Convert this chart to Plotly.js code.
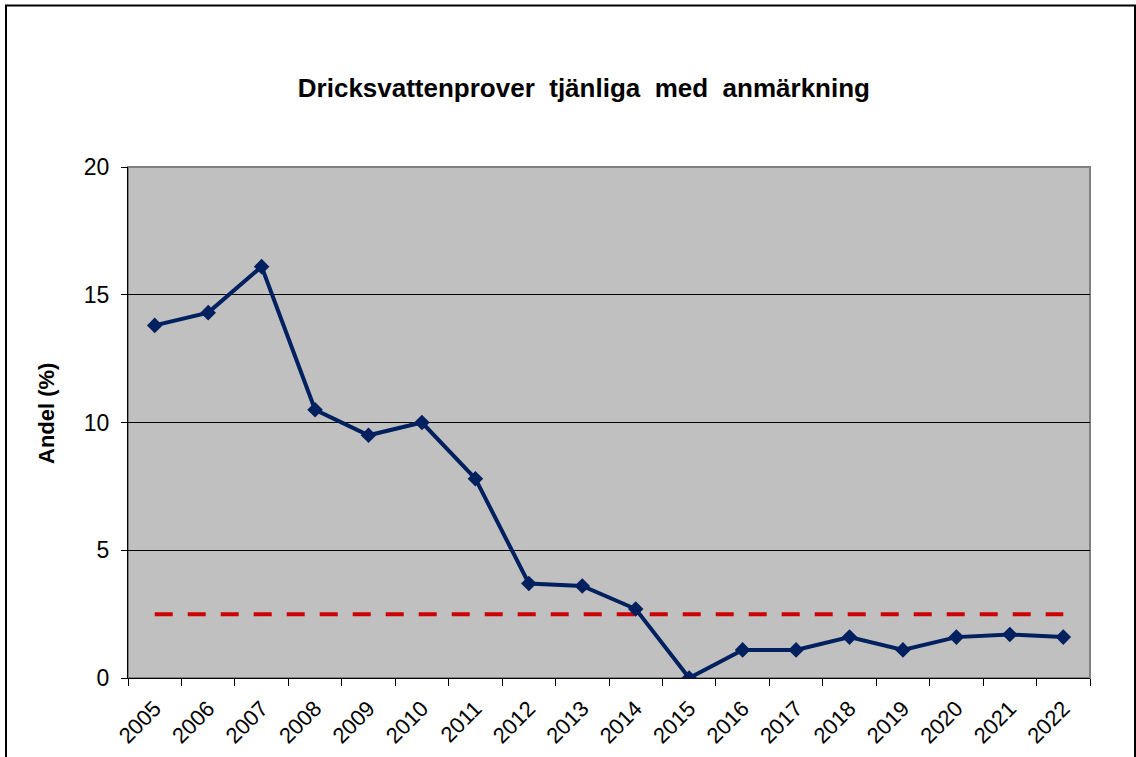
<!DOCTYPE html>
<html>
<head>
<meta charset="utf-8">
<script src="https://cdn.plot.ly/plotly-3.0.1.min.js"></script>
<style>
html,body{margin:0;padding:0;background:#fff;}
#chart{width:1136px;height:757px;}
</style>
</head>
<body>
<div id="chart"></div>
<script>
const years = ["2005","2006","2007","2008","2009","2010","2011","2012","2013","2014","2015","2016","2017","2018","2019","2020","2021","2022"];
const andel = [13.8,14.3,16.1,10.5,9.5,10.0,7.8,3.7,3.6,2.7,0.0,1.1,1.1,1.6,1.1,1.6,1.7,1.6];
const malniva = [2.5,2.5,2.5,2.5,2.5,2.5,2.5,2.5,2.5,2.5,2.5,2.5,2.5,2.5,2.5,2.5,2.5,2.5];
const yTicks = [0,5,10,15,20];

const traces = [
  {
    x: years, y: malniva, type: 'scatter', mode: 'lines',
    line: {color: '#CC0000', width: 4, dash: '18px,15px'},
    hoverinfo: 'skip', showlegend: false
  },
  {
    x: years, y: andel, type: 'scatter', mode: 'lines+markers',
    line: {color: '#00205F', width: 4},
    marker: {symbol: 'diamond', size: 12, color: '#00205F'},
    showlegend: false
  }
];

const font = {family: 'Liberation Sans, Arial, sans-serif', color: '#000'};

const layout = {
  width: 1136, height: 757,
  margin: {l: 128, r: 46, t: 167, b: 79},
  paper_bgcolor: '#ffffff',
  plot_bgcolor: '#C0C0C0',
  font: font,
  title: {
    text: '<b>Dricksvattenprover  tjänliga  med  anmärkning</b>',
    font: {family: font.family, size: 26, color: '#000'},
    xref: 'container', yref: 'container',
    x: 0.514, y: 1 - 88/757, xanchor: 'center', yanchor: 'middle'
  },
  xaxis: {
    type: 'category',
    tickson: 'boundaries',
    ticks: 'outside', ticklen: 7, tickcolor: '#000', tickwidth: 1,
    tickangle: -45,
    ticklabelstandoff: 8,
    tickfont: {family: font.family, size: 22, color: '#000'},
    showline: true, linecolor: '#000', linewidth: 1,
    showgrid: false, zeroline: false,
    range: [-0.5, 17.5]
  },
  yaxis: {
    range: [0, 20],
    tickvals: yTicks,
    ticks: 'outside', ticklen: 6, tickcolor: '#000', tickwidth: 1,
    ticklabelstandoff: 7,
    tickfont: {family: font.family, size: 23, color: '#000'},
    showline: true, linecolor: '#000', linewidth: 1,
    showgrid: true, gridcolor: '#000', gridwidth: 1,
    zeroline: false
  },
  shapes: [
    {type: 'rect', xref: 'paper', yref: 'paper', x0: 0, x1: 1, y0: 0, y1: 1,
     line: {color: '#808080', width: 2}, layer: 'below'},
    {type: 'rect', xref: 'paper', yref: 'paper',
     x0: (6-128)/962, x1: (1135-128)/962, y0: (678-770)/511, y1: (678-5.5)/511,
     line: {color: '#000', width: 2}, fillcolor: 'rgba(0,0,0,0)'}
  ],
  annotations: [
    {text: '<b>Andel (%)</b>', xref: 'paper', yref: 'paper',
     x: (46-128)/962, y: (678-414)/511, textangle: -90, showarrow: false,
     font: {family: font.family, size: 22, color: '#000'},
     xanchor: 'center', yanchor: 'middle'}
  ]
};

Plotly.newPlot('chart', traces, layout, {displayModeBar: false, staticPlot: true});
</script>
</body>
</html>
